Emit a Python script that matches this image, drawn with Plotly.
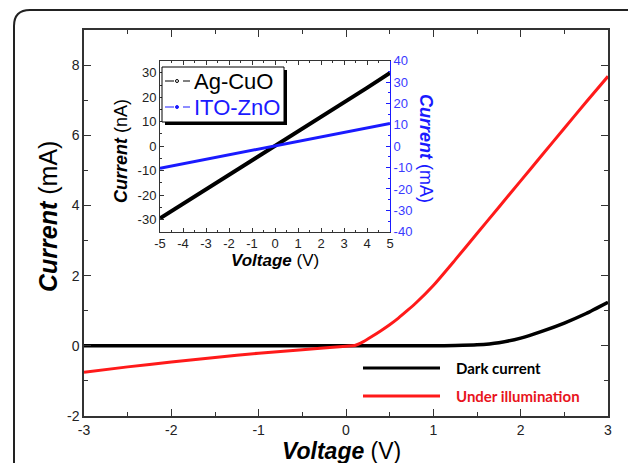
import plotly.graph_objects as go

# ---------------- data ----------------
voltage_main = [-3, -2.5, -2, -1.5, -1, -0.5, 0, 0.1, 0.2, 0.3, 0.4, 0.5, 0.6, 0.7, 0.8,
                1.0, 1.25, 1.5, 1.75, 2.0, 2.25, 2.5, 2.75, 3.0]
dark_current = [0.0, 0.0, 0.0, 0.0, 0.0, 0.0, 0.0, 0.0, 0.0, 0.0, 0.0, 0.0, 0.0, 0.0, 0.0,
                0.0, 0.01, 0.03, 0.09, 0.22, 0.42, 0.65, 0.92, 1.24]
under_illum = [-0.75, -0.60, -0.46, -0.33, -0.21, -0.11, -0.01, 0.01, 0.12, 0.27, 0.43, 0.60,
               0.79, 1.0, 1.22, 1.72, 2.45, 3.20, 3.95, 4.70, 5.45, 6.20, 6.95, 7.68]

voltage_inset = [-5, -4, -3, -2, -1, 0, 1, 2, 3, 4, 5]
agcuo_nA = [-29.5, -23.6, -17.7, -11.8, -5.9, 0.0, 5.9, 11.9, 17.9, 23.9, 30.0]
itozno_mA = [-10.3, -8.2, -6.2, -4.1, -2.1, 0.0, 2.1, 4.2, 6.3, 8.4, 10.6]

main_xticks = [-3, -2, -1, 0, 1, 2, 3]
main_yticks = [-2, 0, 2, 4, 6, 8]
inset_xticks = [-5, -4, -3, -2, -1, 0, 1, 2, 3, 4, 5]
inset_yticks_left = [-30, -20, -10, 0, 10, 20, 30]
inset_yticks_right = [-40, -30, -20, -10, 0, 10, 20, 30, 40]

main_legend = ["Dark current", "Under illumination"]
inset_legend = ["Ag-CuO", "ITO-ZnO"]


def labels(vals):
    return [str(v) for v in vals]  # plain hyphen-minus like the original


# ---------------- layout helpers (pixel -> paper) ----------------
W, H = 628, 463
L, R, T, B = 84, 608, 30, 416


def X(px):
    return (px - L) / (R - L)


def Y(py):
    return (B - py) / (B - T)


FONT = "Arial, Liberation Sans, sans-serif"
RED = "#ff1a1a"
BLUE = "#1a1aff"
AXC = "#333333"

fig = go.Figure()

# main curves
fig.add_trace(go.Scatter(x=voltage_main, y=dark_current, mode="lines", name=main_legend[0],
                         line=dict(color="black", width=3.5, shape="spline", smoothing=0.6),
                         showlegend=False, xaxis="x", yaxis="y"))
fig.add_trace(go.Scatter(x=voltage_main, y=under_illum, mode="lines", name=main_legend[1],
                         line=dict(color=RED, width=3, shape="spline", smoothing=0.6),
                         showlegend=False, xaxis="x", yaxis="y"))

# inset curves
fig.add_trace(go.Scatter(x=voltage_inset, y=agcuo_nA, mode="lines", name=inset_legend[0],
                         line=dict(color="black", width=4),
                         showlegend=False, xaxis="x2", yaxis="y2"))
fig.add_trace(go.Scatter(x=voltage_inset, y=itozno_mA, mode="lines", name=inset_legend[1],
                         line=dict(color=BLUE, width=3),
                         showlegend=False, xaxis="x2", yaxis="y3"))

tickfont_main = dict(family=FONT, size=14, color="#222")
tickfont_inset = dict(family=FONT, size=13, color="#222")

fig.update_layout(
    width=W, height=H,
    margin=dict(l=L, r=W - R, t=T, b=H - B),
    paper_bgcolor="white", plot_bgcolor="white",
    showlegend=False,
    xaxis=dict(domain=[0, 1], range=[-3, 3], tickvals=main_xticks, ticktext=labels(main_xticks),
               ticks="inside", ticklen=7, tickwidth=1.2, tickcolor=AXC, showline=True,
               linecolor=AXC, linewidth=1.5, mirror="ticks", showgrid=False, zeroline=False,
               tickfont=tickfont_main,
               minor=dict(dtick=0.5, ticks="inside", ticklen=4, tickcolor=AXC, showgrid=False)),
    yaxis=dict(domain=[0, 1], range=[-2, 9], tickvals=main_yticks, ticktext=labels(main_yticks),
               ticks="inside", ticklen=7, tickwidth=1.2, tickcolor=AXC, showline=True,
               linecolor=AXC, linewidth=1.5, mirror="ticks", showgrid=False, zeroline=False,
               tickfont=tickfont_main, anchor="x",
               minor=dict(dtick=1, tick0=0, ticks="inside", ticklen=4, tickcolor=AXC, showgrid=False)),
    xaxis2=dict(domain=[X(160), X(390)], range=[-5, 5], tickvals=inset_xticks,
                ticktext=labels(inset_xticks), anchor="y2",
                ticks="inside", ticklen=4, tickcolor=AXC, showline=True, linecolor=AXC,
                linewidth=1, mirror="ticks", showgrid=False, zeroline=False,
                tickfont=tickfont_inset,
                minor=dict(dtick=0.5, ticks="inside", ticklen=2, tickcolor=AXC, showgrid=False)),
    yaxis2=dict(domain=[Y(231.7), Y(60.7)], range=[-35, 35], tickvals=inset_yticks_left,
                ticktext=labels(inset_yticks_left),
                anchor="x2", ticks="inside", ticklen=4, tickcolor=AXC, showline=True,
                linecolor=AXC, linewidth=1, showgrid=False, zeroline=False,
                tickfont=tickfont_inset,
                minor=dict(dtick=5, ticks="inside", ticklen=2, tickcolor=AXC, showgrid=False)),
    yaxis3=dict(range=[-40, 40], tickvals=inset_yticks_right, ticktext=labels(inset_yticks_right),
                overlaying="y2", side="right",
                anchor="x2", ticks="inside", ticklen=4, tickcolor=BLUE, showline=True,
                linecolor=BLUE, linewidth=1, showgrid=False, zeroline=False,
                tickfont=dict(family=FONT, size=13, color="#3a3aff"),
                minor=dict(dtick=5, ticks="inside", ticklen=2, tickcolor=BLUE, showgrid=False)),
)

# outer rounded frame
fig.add_shape(type="path", xref="paper", yref="paper",
              path=(f"M {X(14)},{Y(480)} L {X(14)},{Y(26)} "
                    f"Q {X(14)},{Y(10)} {X(30)},{Y(10)} L {X(660)},{Y(10)}"),
              line=dict(color="#222", width=2), layer="above")

# ---- inset legend (box with shadow) ----
fig.add_shape(type="rect", xref="paper", yref="paper",
              x0=X(165), x1=X(287), y0=Y(125), y1=Y(70),
              fillcolor="black", line=dict(width=0), layer="above")
fig.add_shape(type="rect", xref="paper", yref="paper",
              x0=X(162), x1=X(284), y0=Y(122), y1=Y(67),
              fillcolor="white", line=dict(color="black", width=1), layer="above")
inset_cols = ["black", BLUE]
inset_rows = [81, 107]
for name, col, ry in zip(inset_legend, inset_cols, inset_rows):
    fig.add_shape(type="line", xref="paper", yref="paper", x0=X(165), x1=X(190),
                  y0=Y(ry), y1=Y(ry), line=dict(color=col, width=1, dash="dash"), layer="above")
    fig.add_shape(type="circle", xref="paper", yref="paper", x0=X(175.5), x1=X(178.5),
                  y0=Y(ry + 1.5), y1=Y(ry - 1.5),
                  line=dict(color=col, width=1),
                  fillcolor="white" if col == "black" else col, layer="above")
    fig.add_annotation(xref="paper", yref="paper", x=X(192), y=Y(ry), xanchor="left",
                       yanchor="middle", showarrow=False, text=name,
                       font=dict(family=FONT, size=22, color=col))

# ---- main legend ----
main_cols = ["black", RED]
main_text_cols = ["black", "#e8141c"]
main_rows = [368, 396]
for name, col, tcol, ry in zip(main_legend, main_cols, main_text_cols, main_rows):
    fig.add_shape(type="line", xref="paper", yref="paper", x0=X(363), x1=X(440),
                  y0=Y(ry), y1=Y(ry), line=dict(color=col, width=3))
    fig.add_annotation(xref="paper", yref="paper", x=X(454), y=Y(ry), xanchor="left",
                       yanchor="middle", showarrow=False, text=f"<b>{name}</b>",
                       font=dict(family="Lato, sans-serif", size=15, color=tcol))

# axis titles
fig.add_annotation(xref="paper", yref="paper", x=X(341), y=Y(451), xanchor="center",
                   yanchor="middle", showarrow=False,
                   text="<b><i>Voltage</i></b> (V)",
                   font=dict(family=FONT, size=23, color="black"))
fig.add_annotation(xref="paper", yref="paper", x=X(48), y=Y(217), xanchor="center",
                   yanchor="middle", showarrow=False, textangle=-90,
                   text="<b><i>Current</i></b> (mA)",
                   font=dict(family=FONT, size=25, color="black"))
# inset titles
fig.add_annotation(xref="paper", yref="paper", x=X(275), y=Y(260), xanchor="center",
                   yanchor="middle", showarrow=False,
                   text="<b><i>Voltage</i></b> (V)",
                   font=dict(family=FONT, size=17, color="black"))
fig.add_annotation(xref="paper", yref="paper", x=X(121), y=Y(151), xanchor="center",
                   yanchor="middle", showarrow=False, textangle=-90,
                   text="<b><i>Current</i></b> (nA)",
                   font=dict(family=FONT, size=18, color="black"))
fig.add_annotation(xref="paper", yref="paper", x=X(426), y=Y(148), xanchor="center",
                   yanchor="middle", showarrow=False, textangle=90,
                   text="<b><i>Current</i></b> (mA)",
                   font=dict(family=FONT, size=18, color=BLUE))

fig.write_html("out.html", config={"displayModeBar": False},
               post_script="document.body.style.margin='0';")
